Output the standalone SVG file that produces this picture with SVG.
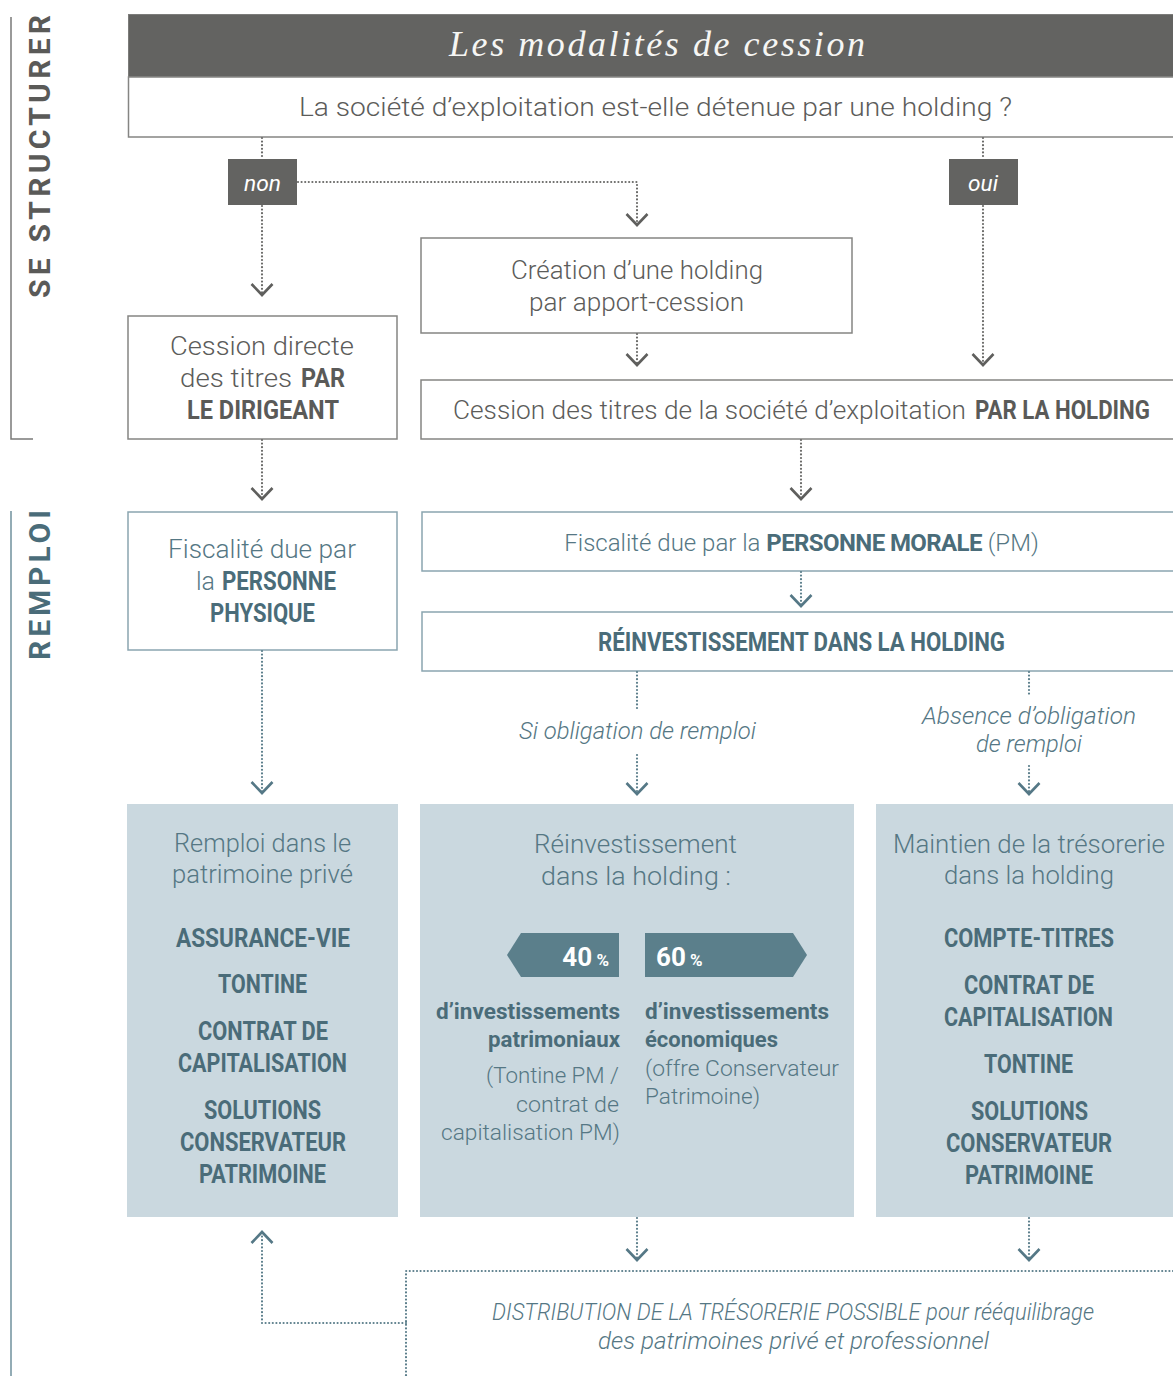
<svg xmlns="http://www.w3.org/2000/svg" width="1173" height="1376" viewBox="0 0 1173 1376">
<style>
text{font-family:Roboto,"Liberation Sans",sans-serif;}
.g{fill:#5c5c5a;font-weight:300;}
.t{fill:#557784;font-weight:300;}
.tb{fill:#4a6c79;font-weight:700;}
.gb{font-weight:700;fill:#5a5a58;}
.r{font-size:25px;}
.bx{fill:#fff;stroke:#858583;stroke-width:1.5;}
.bxt{fill:#fff;stroke:#8aa5b0;stroke-width:1.5;}
.sh{fill:#cad8df;}
.dg{fill:none;stroke:#6a6a68;stroke-width:2.2;stroke-dasharray:0 3.6;stroke-linecap:round;}
.dt{fill:none;stroke:#5b7e8b;stroke-width:2.2;stroke-dasharray:0 3.6;stroke-linecap:round;}
.it{font-style:italic;}
.c{text-anchor:middle;}
</style>
<defs>
<marker id="ag" markerUnits="userSpaceOnUse" viewBox="0 0 14 24" refX="12" refY="12" markerWidth="14" markerHeight="24" orient="auto" overflow="visible">
<path d="M1,1.5 L12,12 L1,22.5" fill="none" stroke="#5f5f5d" stroke-width="2.6"/>
</marker>
<marker id="at" markerUnits="userSpaceOnUse" viewBox="0 0 14 24" refX="12" refY="12" markerWidth="14" markerHeight="24" orient="auto" overflow="visible">
<path d="M1,1.5 L12,12 L1,22.5" fill="none" stroke="#557886" stroke-width="2.6"/>
</marker>
</defs>

<g id="side-structurer">
<path d="M11,17 V439 H33" fill="none" stroke="#7a7a78" stroke-width="1.5"/>
<text class="gb c" transform="translate(50,156.5) rotate(-90)" font-size="30" textLength="283" fill="#626260">SE STRUCTURER</text>
</g>
<g id="side-remploi">
<path d="M11,511 V1376" fill="none" stroke="#6f909c" stroke-width="1.5"/>
<text class="tb c" transform="translate(50,585) rotate(-90)" font-size="30" textLength="150" fill="#5b7d8a">REMPLOI</text>
</g>

<g id="header">
<rect x="128.5" y="14.5" width="1050" height="62.5" fill="#636361" stroke="#7c7c7a" stroke-width="1"/>
<text x="657" y="56" class="c" style="font-family:'Liberation Serif',serif;font-style:italic;" font-size="36" fill="#f6f6f4" textLength="416">Les modalités de cession</text>
</g>
<g id="question">
<rect x="128.5" y="77" width="1050" height="60" class="bx"/>
<text x="655.5" y="116" class="g r c" textLength="713" lengthAdjust="spacingAndGlyphs">La société d’exploitation est-elle détenue par une holding ?</text>
</g>

<g id="badge-non">
<rect x="228" y="159" width="69" height="46" fill="#636361"/>
<text x="262.5" y="191" class="c it" font-size="22" fill="#fff" textLength="37" lengthAdjust="spacingAndGlyphs">non</text>
</g>
<g id="badge-oui">
<rect x="949" y="159" width="69" height="46" fill="#636361"/>
<text x="983" y="191" class="c it" font-size="22" fill="#fff" textLength="30" lengthAdjust="spacingAndGlyphs">oui</text>
</g>

<g id="cession-directe">
<rect x="128" y="316" width="269" height="123" class="bx"/>
<text x="262" y="355" class="g r c" textLength="184" lengthAdjust="spacingAndGlyphs">Cession directe</text>
<text x="180" y="387" class="g r" textLength="112" lengthAdjust="spacingAndGlyphs">des titres</text>
<text x="301" y="387" class="gb r" textLength="44" lengthAdjust="spacingAndGlyphs">PAR</text>
<text x="263" y="419" class="gb r c" textLength="152" lengthAdjust="spacingAndGlyphs">LE DIRIGEANT</text>
</g>

<g id="creation-holding">
<rect x="421" y="238" width="431" height="95" class="bx"/>
<text x="637" y="279" class="g r c" textLength="252" lengthAdjust="spacingAndGlyphs">Création d’une holding</text>
<text x="636.5" y="311" class="g r c" textLength="215" lengthAdjust="spacingAndGlyphs">par apport-cession</text>
</g>

<g id="cession-holding">
<rect x="421" y="380" width="760" height="59" class="bx"/>
<text x="453" y="419" class="g r" textLength="513" lengthAdjust="spacingAndGlyphs">Cession des titres de la société d’exploitation</text>
<text x="975" y="419" class="gb r" textLength="175" lengthAdjust="spacingAndGlyphs">PAR LA HOLDING</text>
</g>

<g id="fiscalite-pp">
<rect x="128" y="512" width="269" height="138" class="bxt"/>
<text x="262" y="558" class="t r c" textLength="188" lengthAdjust="spacingAndGlyphs">Fiscalité due par</text>
<text x="196" y="590" class="t r" textLength="19" lengthAdjust="spacingAndGlyphs">la</text>
<text x="222" y="590" class="tb r" textLength="114" lengthAdjust="spacingAndGlyphs">PERSONNE</text>
<text x="262.5" y="622" class="tb r c" textLength="105" lengthAdjust="spacingAndGlyphs">PHYSIQUE</text>
</g>

<g id="fiscalite-pm">
<rect x="422" y="512" width="760" height="59" class="bxt"/>
<text x="801.5" y="551" class="t c" font-size="24">Fiscalité due par la <tspan class="tb" letter-spacing="-0.6">PERSONNE MORALE</tspan> (PM)</text>
</g>

<g id="reinvestissement">
<rect x="422" y="612" width="760" height="59" class="bxt"/>
<text x="801.5" y="651" class="tb r c" textLength="407" lengthAdjust="spacingAndGlyphs">RÉINVESTISSEMENT DANS LA HOLDING</text>
</g>

<g id="label-si">
<text x="637.5" y="739" class="t it c" font-size="23" textLength="237" lengthAdjust="spacingAndGlyphs">Si obligation de remploi</text>
</g>
<g id="label-absence">
<text x="1029" y="724" class="t it c" font-size="23" textLength="214" lengthAdjust="spacingAndGlyphs">Absence d’obligation</text>
<text x="1029" y="752" class="t it c" font-size="23" textLength="106" lengthAdjust="spacingAndGlyphs">de remploi</text>
</g>

<g id="remploi-prive">
<rect x="127" y="804" width="271" height="413" class="sh"/>
<text x="262.5" y="852" class="t r c" textLength="177" lengthAdjust="spacingAndGlyphs">Remploi dans le</text>
<text x="262.5" y="883" class="t r c" textLength="181" lengthAdjust="spacingAndGlyphs">patrimoine privé</text>
<text x="263" y="947" class="tb r c" textLength="174" lengthAdjust="spacingAndGlyphs">ASSURANCE-VIE</text>
<text x="262.5" y="993" class="tb r c" textLength="89" lengthAdjust="spacingAndGlyphs">TONTINE</text>
<text x="263" y="1040" class="tb r c" textLength="130" lengthAdjust="spacingAndGlyphs">CONTRAT DE</text>
<text x="262.5" y="1072" class="tb r c" textLength="169" lengthAdjust="spacingAndGlyphs">CAPITALISATION</text>
<text x="262.5" y="1119" class="tb r c" textLength="117" lengthAdjust="spacingAndGlyphs">SOLUTIONS</text>
<text x="263" y="1151" class="tb r c" textLength="166" lengthAdjust="spacingAndGlyphs">CONSERVATEUR</text>
<text x="262.5" y="1183" class="tb r c" textLength="127" lengthAdjust="spacingAndGlyphs">PATRIMOINE</text>
</g>

<g id="reinvest-holding">
<rect x="420" y="804" width="434" height="413" class="sh"/>
<text x="635.5" y="853" class="t r c" textLength="203" lengthAdjust="spacingAndGlyphs">Réinvestissement</text>
<text x="636" y="885" class="t r c" textLength="190" lengthAdjust="spacingAndGlyphs">dans la holding :</text>
<polygon points="507,955 521,933 619,933 619,977 521,977" fill="#5b7f8b"/>
<polygon points="645,933 793,933 807,955 793,977 645,977" fill="#5b7f8b"/>
<text x="609" y="966" text-anchor="end" font-weight="700" fill="#fff" font-size="26">40<tspan font-size="17"> %</tspan></text>
<text x="656" y="966" font-weight="700" fill="#fff" font-size="26">60<tspan font-size="17"> %</tspan></text>
<text x="620" y="1019" text-anchor="end" class="tb" font-size="22" textLength="184" lengthAdjust="spacingAndGlyphs">d’investissements</text>
<text x="620" y="1047" text-anchor="end" class="tb" font-size="22" textLength="132" lengthAdjust="spacingAndGlyphs">patrimoniaux</text>
<text x="619" y="1083" text-anchor="end" class="t" font-size="22" textLength="133" lengthAdjust="spacingAndGlyphs">(Tontine PM /</text>
<text x="619" y="1112" text-anchor="end" class="t" font-size="22" textLength="103" lengthAdjust="spacingAndGlyphs">contrat de</text>
<text x="620" y="1140" text-anchor="end" class="t" font-size="22" textLength="179" lengthAdjust="spacingAndGlyphs">capitalisation PM)</text>
<text x="645" y="1019" class="tb" font-size="22" textLength="184" lengthAdjust="spacingAndGlyphs">d’investissements</text>
<text x="645" y="1047" class="tb" font-size="22" textLength="133" lengthAdjust="spacingAndGlyphs">économiques</text>
<text x="645" y="1076" class="t" font-size="22" textLength="194" lengthAdjust="spacingAndGlyphs">(offre Conservateur</text>
<text x="645" y="1104" class="t" font-size="22" textLength="115" lengthAdjust="spacingAndGlyphs">Patrimoine)</text>
</g>

<g id="maintien-tresorerie">
<rect x="876" y="804" width="300" height="413" class="sh"/>
<text x="1029" y="853" class="t r c" textLength="272" lengthAdjust="spacingAndGlyphs">Maintien de la trésorerie</text>
<text x="1029" y="884" class="t r c" textLength="170" lengthAdjust="spacingAndGlyphs">dans la holding</text>
<text x="1029" y="947" class="tb r c" textLength="170" lengthAdjust="spacingAndGlyphs">COMPTE-TITRES</text>
<text x="1029" y="994" class="tb r c" textLength="130" lengthAdjust="spacingAndGlyphs">CONTRAT DE</text>
<text x="1028.5" y="1026" class="tb r c" textLength="169" lengthAdjust="spacingAndGlyphs">CAPITALISATION</text>
<text x="1028.5" y="1073" class="tb r c" textLength="89" lengthAdjust="spacingAndGlyphs">TONTINE</text>
<text x="1029.5" y="1120" class="tb r c" textLength="117" lengthAdjust="spacingAndGlyphs">SOLUTIONS</text>
<text x="1029" y="1152" class="tb r c" textLength="166" lengthAdjust="spacingAndGlyphs">CONSERVATEUR</text>
<text x="1029" y="1184" class="tb r c" textLength="128" lengthAdjust="spacingAndGlyphs">PATRIMOINE</text>
</g>

<g id="distribution">
<text x="492" y="1320" class="t it" font-size="23" textLength="602" lengthAdjust="spacingAndGlyphs">DISTRIBUTION DE LA TRÉSORERIE POSSIBLE pour rééquilibrage</text>
<text x="598" y="1349" class="t it" font-size="23" textLength="391" lengthAdjust="spacingAndGlyphs">des patrimoines privé et professionnel</text>
</g>

<g id="connectors">
<path class="dg" d="M262,138 V159"/>
<path class="dg" d="M262,206 V295" marker-end="url(#ag)"/>
<path class="dg" d="M298,182 H637 V225" marker-end="url(#ag)"/>
<path class="dg" d="M983,138 V159"/>
<path class="dg" d="M983,206 V365" marker-end="url(#ag)"/>
<path class="dg" d="M637,334 V365" marker-end="url(#ag)"/>
<path class="dg" d="M262,440 V499" marker-end="url(#ag)"/>
<path class="dg" d="M801,440 V499" marker-end="url(#ag)"/>
<path class="dt" d="M801,572 V606" marker-end="url(#at)"/>
<path class="dt" d="M637,672 V709"/>
<path class="dt" d="M637,755 V794" marker-end="url(#at)"/>
<path class="dt" d="M1029,672 V695"/>
<path class="dt" d="M1029,766 V794" marker-end="url(#at)"/>
<path class="dt" d="M262,651 V793" marker-end="url(#at)"/>
<path class="dt" d="M637,1218 V1260" marker-end="url(#at)"/>
<path class="dt" d="M1029,1218 V1260" marker-end="url(#at)"/>
<path class="dt" d="M1173,1271 H406 V1376"/>
<path class="dt" d="M406,1323 H262 V1232" marker-end="url(#at)"/>
</g>
</svg>
